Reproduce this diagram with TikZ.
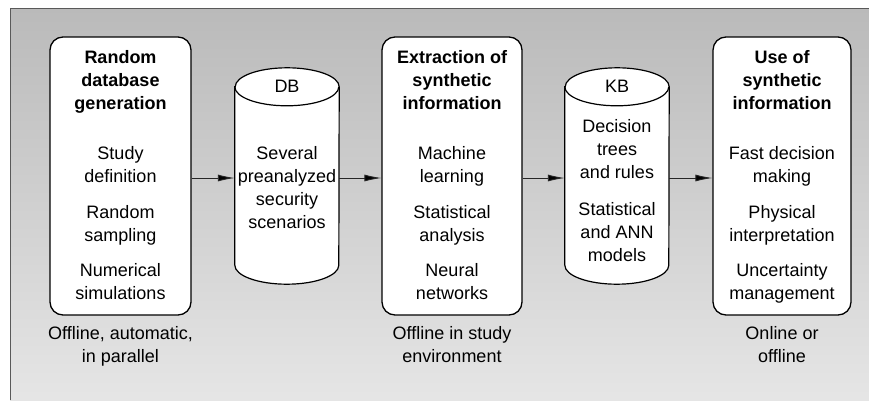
\documentclass[tikz,border=0pt]{standalone}
\usepackage{fontspec}
\setmainfont{Liberation Sans}
\usetikzlibrary{positioning,arrows.meta}
\definecolor{bgtop}{gray}{0.73}
\definecolor{bgbot}{gray}{0.90}
\definecolor{framegray}{gray}{0.35}
\begin{document}
\begin{tikzpicture}[x=1pt,y=1pt,
        stage/.style={draw, fill=white, line width=1.3pt, rounded corners=13pt, minimum height=278pt, inner sep=0pt},
        cylbody/.style={minimum width=104pt, minimum height=178pt, inner sep=0pt},
        txt/.style={align=center, inner sep=0pt, font=\fontsize{18}{23}\selectfont},
        head/.style={txt, font=\fontsize{18}{23}\selectfont\bfseries},
        flow/.style={draw=black!85, line width=0.9pt, -{Latex[length=17pt,width=7pt,fill=black]}}]
    \useasboundingbox (0,0) rectangle (869,400);
    % background
    \shade[top color=bgtop, bottom color=bgbot] (10,0) rectangle (869,391);
    \draw[framegray, line width=1pt] (10,0) -- (10,391) -- (869,391);
    % stages
    \node[stage, minimum width=141pt] (gen) at (120.5,224) {};
    \node[stage, minimum width=140pt] (ext) at (452,224) {};
    \node[stage, minimum width=138pt] (use) at (782,224) {};
    % stores
    \node[cylbody] (db) at (287,224) {};
    \node[cylbody] (kb) at (617,224) {};
    \foreach \c in {db,kb}{
        \draw[fill=white, line width=1.2pt] (\c.north west) -- (\c.south west)
            arc[start angle=180, end angle=360, x radius=52pt, y radius=19pt] -- (\c.north east)
            arc[start angle=0, end angle=180, x radius=52pt, y radius=19pt] -- cycle;
        \draw[line width=1.2pt] (\c.north west) arc[start angle=180, end angle=360, x radius=52pt, y radius=19pt];
    }
    % texts
    \node[head, below=14pt of gen.north] (gen-t) {Random\\database\\generation};
    \node[txt, below=110pt of gen.north] (gen-i) {Study\\definition\\[12.5pt]Random\\sampling\\[12.5pt]Numerical\\simulations};
    \node[txt, below=11pt of gen.south] (gen-c) {Offline, automatic,\\in parallel};

    \node[txt] (db-t) at (db.north) {DB};
    \node[txt, below=59pt of db.north] (db-i) {Several\\preanalyzed\\security\\scenarios};

    \node[head, below=14pt of ext.north] (ext-t) {Extraction of\\synthetic\\information};
    \node[txt, below=110pt of ext.north] (ext-i) {Machine\\learning\\[12.5pt]Statistical\\analysis\\[12.5pt]Neural\\networks};
    \node[txt, below=11pt of ext.south] (ext-c) {Offline in study\\environment};

    \node[txt] (kb-t) at (kb.north) {KB};
    \node[txt, below=32pt of kb.north] (kb-i) {Decision\\trees\\and rules\\[14pt]Statistical\\and ANN\\models};

    \node[head, below=14pt of use.north] (use-t) {Use of\\synthetic\\information};
    \node[txt, below=110pt of use.north] (use-i) {Fast decision\\making\\[12.5pt]Physical\\interpretation\\[12.5pt]Uncertainty\\management};
    \node[txt, below=11pt of use.south] (use-c) {Online or\\offline};
    % connectors
    \foreach \a/\b in {gen/db,db/ext,ext/kb,kb/use}
        \draw[flow] ([yshift=-2pt]\a.east) -- ([yshift=-2pt]\b.west);
\end{tikzpicture}
\end{document}
